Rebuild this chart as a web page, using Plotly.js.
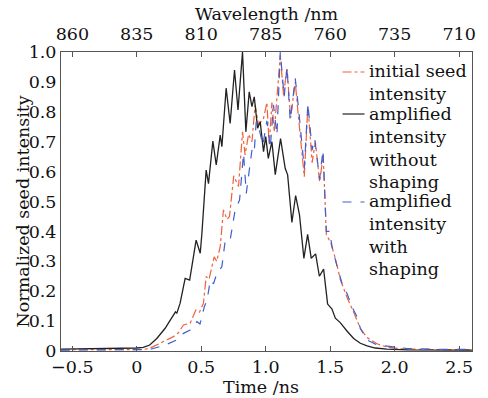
<!DOCTYPE html>
<html>
<head>
<meta charset="utf-8">
<script src="https://cdn.plot.ly/plotly-3.0.1.min.js"></script>
<style>html,body{margin:0;padding:0;background:#fff;}#chart{width:488px;height:398px;}</style>
</head>
<body>
<div id="chart"></div>
<script>
// Time axis (ns) and normalized intensities
const tBlack = [-0.59, -0.3, 0, 0.05, 0.1, 0.155, 0.22, 0.245, 0.30, 0.31, 0.336, 0.362, 0.375, 0.41, 0.427, 0.46, 0.492, 0.505, 0.538, 0.556, 0.59, 0.616, 0.647, 0.66, 0.693, 0.724, 0.758, 0.785, 0.82, 0.846, 0.872, 0.893, 0.911, 0.937, 0.957, 0.983, 1.0, 1.02, 1.048, 1.074, 1.115, 1.151, 1.17, 1.203, 1.232, 1.262, 1.296, 1.325, 1.353, 1.387, 1.416, 1.449, 1.48, 1.514, 1.54, 1.578, 1.63, 1.682, 1.734, 1.786, 1.85, 1.94, 2.1, 2.4, 2.6];
const vBlack = [0.006, 0.007, 0.01, 0.012, 0.02, 0.042, 0.076, 0.093, 0.131, 0.126, 0.16, 0.215, 0.243, 0.237, 0.282, 0.371, 0.327, 0.394, 0.605, 0.56, 0.702, 0.622, 0.722, 0.683, 0.879, 0.761, 0.94, 0.806, 1.0, 0.733, 0.867, 0.817, 0.85, 0.745, 0.767, 0.667, 0.717, 0.644, 0.70, 0.59, 0.71, 0.611, 0.589, 0.43, 0.52, 0.455, 0.31, 0.39, 0.31, 0.325, 0.25, 0.274, 0.157, 0.14, 0.11, 0.095, 0.067, 0.042, 0.026, 0.017, 0.01, 0.006, 0.004, 0.003, 0.003];

const tRed = [-0.59, -0.2, 0, 0.05, 0.1, 0.207, 0.284, 0.323, 0.362, 0.414, 0.458, 0.486, 0.517, 0.538, 0.56, 0.60, 0.62, 0.647, 0.672, 0.70, 0.719, 0.752, 0.789, 0.82, 0.84, 0.867, 0.893, 0.918, 0.944, 0.983, 1.009, 1.027, 1.048, 1.066, 1.085, 1.113, 1.138, 1.165, 1.193, 1.229, 1.25, 1.299, 1.327, 1.36, 1.385, 1.418, 1.446, 1.47, 1.506, 1.54, 1.578, 1.63, 1.682, 1.734, 1.786, 1.863, 1.94, 2.05, 2.3, 2.6];
const vRed = [0.004, 0.004, 0.004, 0.005, 0.009, 0.031, 0.048, 0.061, 0.087, 0.093, 0.137, 0.13, 0.16, 0.249, 0.24, 0.315, 0.30, 0.349, 0.472, 0.44, 0.45, 0.586, 0.55, 0.733, 0.656, 0.725, 0.70, 0.823, 0.756, 0.778, 0.831, 0.689, 0.831, 0.733, 0.84, 0.99, 0.856, 0.945, 0.78, 0.90, 0.80, 0.583, 0.82, 0.63, 0.70, 0.565, 0.655, 0.39, 0.36, 0.31, 0.24, 0.18, 0.13, 0.075, 0.045, 0.024, 0.013, 0.007, 0.005, 0.004];

const tBlue = [-0.59, -0.2, 0, 0.05, 0.1, 0.22, 0.31, 0.362, 0.414, 0.466, 0.49, 0.525, 0.545, 0.57, 0.595, 0.621, 0.66, 0.686, 0.724, 0.763, 0.797, 0.828, 0.849, 0.893, 0.91, 0.926, 0.95, 0.978, 1.009, 1.035, 1.06, 1.087, 1.113, 1.143, 1.165, 1.19, 1.229, 1.255, 1.299, 1.327, 1.36, 1.38, 1.418, 1.444, 1.47, 1.496, 1.514, 1.547, 1.592, 1.63, 1.669, 1.708, 1.734, 1.786, 1.863, 1.99, 2.1, 2.3, 2.6];
const vBlue = [0.003, 0.003, 0.003, 0.003, 0.005, 0.02, 0.037, 0.059, 0.07, 0.098, 0.09, 0.15, 0.17, 0.237, 0.225, 0.26, 0.282, 0.371, 0.371, 0.472, 0.505, 0.661, 0.527, 0.672, 0.66, 0.767, 0.74, 0.689, 0.77, 0.678, 0.823, 0.722, 1.0, 0.85, 0.95, 0.77, 0.912, 0.81, 0.61, 0.828, 0.672, 0.71, 0.575, 0.672, 0.40, 0.40, 0.35, 0.293, 0.226, 0.193, 0.148, 0.115, 0.076, 0.037, 0.02, 0.014, 0.008, 0.006, 0.005];

const timeTicks = [-0.5, 0, 0.5, 1.0, 1.5, 2.0, 2.5];
const timeTickText = ["\u22120.5", "0", "0.5", "1.0", "1.5", "2.0", "2.5"];
const waveTicks = [860, 835, 810, 785, 760, 735, 710];
const yTicks = [0, 0.1, 0.2, 0.3, 0.4, 0.5, 0.6, 0.7, 0.8, 0.9, 1.0];
const yTickText = ["0", "0.1", "0.2", "0.3", "0.4", "0.5", "0.6", "0.7", "0.8", "0.9", "1.0"];

const seriesNames = ["initial seed<br>intensity", "amplified<br>intensity<br>without<br>shaping", "amplified<br>intensity<br>with<br>shaping"];
const xTitle = "Time /ns", x2Title = "Wavelength /nm", yTitle = "Normalized seed intensity";

const FONT = "DejaVu Serif, serif";
const FS = 17.5;
const cRed = "#f0603a", cBlack = "#222222", cBlue = "#3f5fd0";

const traces = [
  {x: tRed, y: vRed, type: "scatter", mode: "lines", line: {color: cRed, width: 1.2, dash: "dashdot"}, showlegend: false, hoverinfo: "skip"},
  {x: tBlack, y: vBlack, type: "scatter", mode: "lines", line: {color: cBlack, width: 1.3}, showlegend: false, hoverinfo: "skip"},
  {x: tBlue, y: vBlue, type: "scatter", mode: "lines", line: {color: cBlue, width: 1.2, dash: "dash"}, showlegend: false, hoverinfo: "skip"},
  {x: waveTicks, y: waveTicks.map(() => null), xaxis: "x2", type: "scatter", mode: "lines", showlegend: false, hoverinfo: "skip"}
];

const pl = 61, pr = 472, pt = 52, pb = 351;
const px = v => (v - pl) / (pr - pl);
const py = v => (pb - v) / (pb - pt);
const tf = {family: FONT, size: FS, color: "#111"};

const legendRows = [
  {ly: 72, ty: 59, color: cRed, dash: "dashdot"},
  {ly: 114, ty: 102, color: cBlack, dash: "solid"},
  {ly: 202, ty: 189, color: cBlue, dash: "dash"}
];

const shapes = legendRows.map(r => ({
  type: "line", xref: "paper", yref: "paper",
  x0: px(342.5), x1: px(364.5), y0: py(r.ly), y1: py(r.ly),
  line: {color: r.color, width: 1.2, dash: r.dash}
}));
const annotations = legendRows.map((r, i) => ({
  xref: "paper", yref: "paper", x: px(367), y: py(r.ty),
  xanchor: "left", yanchor: "top", align: "left", showarrow: false,
  text: seriesNames[i], font: tf
}));
annotations.push(
  {xref: "paper", yref: "paper", x: px(267), y: py(14), xanchor: "center", yanchor: "middle", showarrow: false, text: x2Title, font: tf},
  {xref: "paper", yref: "paper", x: px(260.5), y: py(397.5), xanchor: "center", yanchor: "bottom", borderpad: 0, showarrow: false, text: xTitle, font: tf},
  {xref: "paper", yref: "paper", x: px(22), y: py(211.5), xanchor: "center", yanchor: "middle", textangle: -90, showarrow: false, text: yTitle, font: tf}
);

const layout = {
  width: 488, height: 398,
  margin: {l: pl, r: 488 - pr, t: pt, b: 398 - pb, pad: 0},
  paper_bgcolor: "#fff", plot_bgcolor: "#fff",
  font: tf,
  xaxis: {
    range: [-0.588, 2.60], tickvals: timeTicks, ticktext: timeTickText,
    ticks: "inside", ticklen: 5, tickcolor: "#555", showline: true, linecolor: "#555", linewidth: 1,
    mirror: true, showgrid: false, zeroline: false, ticklabelstandoff: 0,
    tickfont: tf
  },
  xaxis2: {
    overlaying: "x", side: "top", range: [864.4, 705.0], tickvals: waveTicks,
    ticks: "inside", ticklen: 5, tickcolor: "#555", showline: false, showgrid: false, zeroline: false,
    ticklabelstandoff: 8, tickfont: tf
  },
  yaxis: {
    range: [0, 1], tickvals: yTicks, ticktext: yTickText,
    ticks: "", showline: true, linecolor: "#555", linewidth: 1, mirror: true,
    showgrid: false, zeroline: false, tickfont: tf
  },
  shapes: shapes,
  annotations: annotations,
  showlegend: false
};

Plotly.newPlot("chart", traces, layout, {staticPlot: true, displayModeBar: false});
</script>
</body>
</html>
